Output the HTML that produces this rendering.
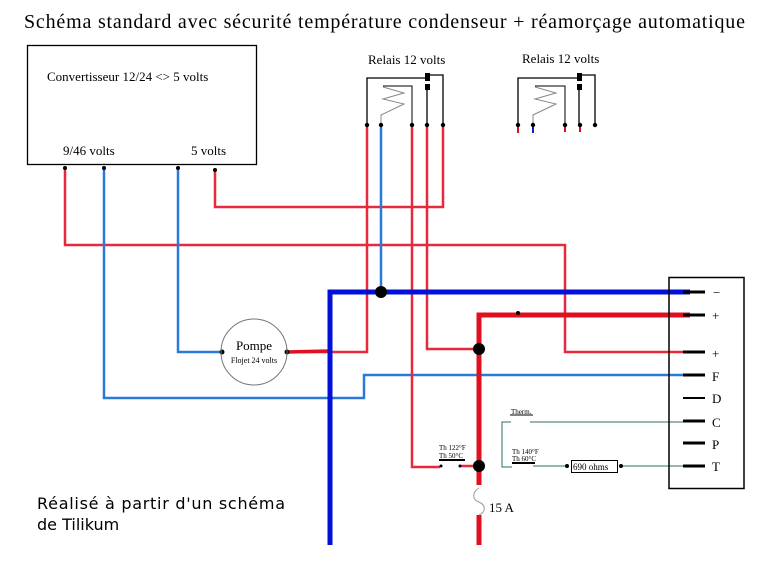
<!DOCTYPE html>
<html><head><meta charset="utf-8"><style>
html,body{margin:0;padding:0;background:#fff;}
svg{display:block;}
.s{font-family:"Liberation Serif",serif;fill:#000;}
</style></head><body>
<svg width="763" height="562" viewBox="0 0 763 562" xmlns="http://www.w3.org/2000/svg">
<text class="s" x="24" y="28" font-size="20" textLength="721">Schéma standard avec sécurité température condenseur + réamorçage automatique</text>

<!-- converter -->
<rect x="27.5" y="45.5" width="229" height="119" fill="none" stroke="#000" stroke-width="1.3"/>
<text class="s" x="47" y="81" font-size="13">Convertisseur 12/24 &lt;&gt; 5 volts</text>
<text class="s" x="63" y="155" font-size="13">9/46 volts</text>
<text class="s" x="191" y="155" font-size="13">5 volts</text>

<!-- relays -->
<g fill="none" stroke-width="1.3">
<text class="s" x="368" y="64" font-size="13" stroke="none">Relais 12 volts</text>
<polyline points="367,125 367,78 428,78" stroke="#000"/>
<polyline points="430,75 443,75 443,125" stroke="#000"/>
<line x1="427" y1="90" x2="427" y2="125" stroke="#000"/>
<rect x="425" y="73" width="5" height="8" fill="#000" stroke="none"/>
<rect x="425" y="84" width="5" height="6" fill="#000" stroke="none"/>
<polyline points="381,125 381,115 404,104 383,99 404,93 383,87" stroke="#888" stroke-width="1"/>
<polyline points="412,125 412,86 383,86" stroke="#000" stroke-width="1"/>

<text class="s" x="522" y="63" font-size="13" stroke="none">Relais 12 volts</text>
<polyline points="518,125 518,78 579,78" stroke="#000"/>
<polyline points="581,75 595,75 595,125" stroke="#000"/>
<line x1="579" y1="90" x2="579" y2="125" stroke="#000"/>
<rect x="577" y="73" width="5" height="8" fill="#000" stroke="none"/>
<rect x="577" y="84" width="5" height="6" fill="#000" stroke="none"/>
<polyline points="533,125 533,115 556,104 535,99 556,93 535,87" stroke="#888" stroke-width="1"/>
<polyline points="565,125 565,86 535,86" stroke="#000" stroke-width="1"/>
<line x1="518" y1="125" x2="518" y2="133" stroke="#d01020" stroke-width="2"/>
<line x1="533" y1="125" x2="533" y2="133" stroke="#1020c0" stroke-width="2"/>
<line x1="565" y1="125" x2="565" y2="132" stroke="#d01020" stroke-width="2"/>
<line x1="580" y1="125" x2="580" y2="132" stroke="#d01020" stroke-width="2"/>
</g>

<!-- thin wires -->
<g fill="none" stroke-width="2.5">
<polyline points="65,168 65,245 565,245 565,352 690,352" stroke="#e8283c"/>
<polyline points="104,168 104,398 364,398 364,375 690,375" stroke="#2a7ad8"/>
<polyline points="178,168 178,352 222,352" stroke="#2a7ad8"/>
<polyline points="215,170 215,207 443,207 443,127" stroke="#e8283c"/>
<polyline points="381,127 381,292" stroke="#2a7ad8"/>
<polyline points="367,127 367,352 287,352" stroke="#e8283c"/>
<line x1="287" y1="352" x2="330" y2="351" stroke="#e01020" stroke-width="3.5"/>
<polyline points="427,127 427,349 479,349" stroke="#e8283c"/>
<polyline points="412,127 412,467 440,467" stroke="#e8283c"/>
<line x1="460" y1="466" x2="479" y2="466" stroke="#e8283c"/>
</g>

<!-- buses -->
<polyline points="330,545 330,292 690,292" fill="none" stroke="#0010d8" stroke-width="5"/>
<polyline points="690,315 479,315 479,485" fill="none" stroke="#e01020" stroke-width="5"/>
<line x1="479" y1="515" x2="479" y2="545" stroke="#e01020" stroke-width="5"/>
<path d="M479,488 C472,492 472,500 479,502 C486,505 486,512 479,515" fill="none" stroke="#999" stroke-width="1"/>
<text class="s" x="489" y="512" font-size="13">15 A</text>

<!-- dots -->
<g fill="#000">
<circle cx="381" cy="292" r="6"/><circle cx="479" cy="349" r="6"/><circle cx="479" cy="466" r="6"/>
<circle cx="65" cy="168" r="2"/><circle cx="104" cy="168" r="2"/><circle cx="178" cy="168" r="2"/><circle cx="215" cy="170" r="2"/>
<circle cx="367" cy="125" r="2.2"/><circle cx="381" cy="125" r="2.2"/><circle cx="412" cy="125" r="2.2"/><circle cx="427" cy="125" r="2.2"/><circle cx="443" cy="125" r="2.2"/>
<circle cx="518" cy="125" r="2.2"/><circle cx="533" cy="125" r="2.2"/><circle cx="565" cy="125" r="2.2"/><circle cx="580" cy="125" r="2.2"/><circle cx="595" cy="125" r="2.2"/>
<circle cx="222" cy="352" r="2.5"/><circle cx="287" cy="352" r="2.5"/><circle cx="518" cy="313" r="2"/>
</g>

<!-- pump -->
<circle cx="254" cy="352" r="33" fill="none" stroke="#777" stroke-width="1"/>
<text class="s" x="254" y="350" font-size="13" text-anchor="middle">Pompe</text>
<text class="s" x="254" y="363" font-size="8" text-anchor="middle">Flojet 24 volts</text>

<!-- thermostat 122 -->
<text class="s" x="439" y="450" font-size="7">Th 122°F</text>
<text class="s" x="439" y="458" font-size="7">Th 50°C</text>
<line x1="439" y1="460" x2="465" y2="460" stroke="#000" stroke-width="2"/>
<circle cx="441" cy="466" r="1.5"/><circle cx="460" cy="466" r="1.5"/>

<!-- green circuit -->
<g fill="none" stroke="#2a7060" stroke-width="1">
<polyline points="512,467 502,467 502,422 511,422"/>
<line x1="530" y1="422" x2="690" y2="422"/>
<line x1="533" y1="466" x2="566" y2="466"/>
<line x1="620" y1="466" x2="690" y2="466"/>
</g>
<text class="s" x="511" y="414" font-size="7">Therm.</text>
<line x1="510" y1="415" x2="533" y2="415" stroke="#000" stroke-width="1"/>
<text class="s" x="512" y="454" font-size="7">Th 140°F</text>
<text class="s" x="512" y="461" font-size="7">Th 60°C</text>
<line x1="512" y1="463" x2="535" y2="463" stroke="#000" stroke-width="2"/>
<circle cx="567" cy="466" r="2"/><circle cx="621" cy="466" r="2"/>
<rect x="571.5" y="460.5" width="46" height="12" fill="#fff" stroke="#000"/>
<text class="s" x="573" y="470" font-size="9">690 ohms</text>

<!-- terminal box -->
<rect x="669" y="277.5" width="75" height="211" fill="none" stroke="#000" stroke-width="1.5"/>
<g stroke="#000" stroke-width="3">
<line x1="683" y1="292" x2="705" y2="292"/><line x1="683" y1="315" x2="705" y2="315"/>
<line x1="683" y1="352" x2="705" y2="352"/><line x1="683" y1="375" x2="705" y2="375"/>
<line x1="683" y1="398" x2="705" y2="398" stroke-width="2"/><line x1="683" y1="421" x2="705" y2="421"/>
<line x1="683" y1="443" x2="705" y2="443"/><line x1="683" y1="466" x2="705" y2="466"/>
</g>
<g class="s" font-size="13">
<text x="713" y="297">−</text><text x="712" y="320">+</text><text x="712" y="358">+</text>
<text x="712" y="381">F</text><text x="712" y="403">D</text><text x="712" y="427">C</text>
<text x="712" y="449">P</text><text x="712" y="471">T</text>
</g>

<text x="37" y="509" font-family="DejaVu Sans, sans-serif" font-size="16" textLength="248">Réalisé à partir d'un schéma</text>
<text x="37" y="530" font-family="DejaVu Sans, sans-serif" font-size="16">de Tilikum</text>
</svg>
</body></html>
